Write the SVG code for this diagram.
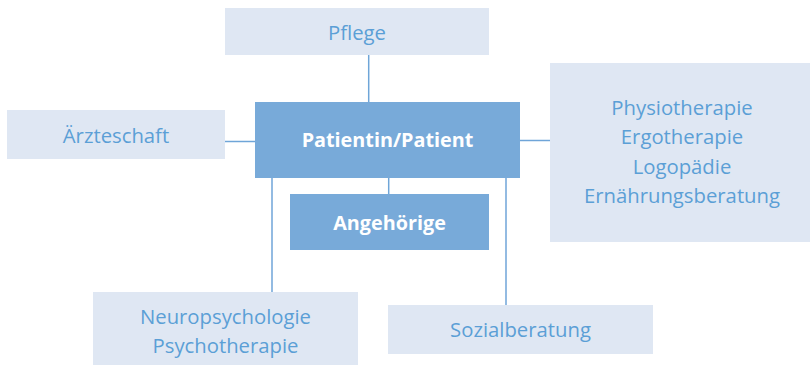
<svg xmlns="http://www.w3.org/2000/svg" width="810" height="365" viewBox="0 0 810 365">
<style>
.lt{fill:#dfe7f3}
.dk{fill:#78aad9}
.t{font-family:"Open Sans","Liberation Sans",sans-serif;font-size:20.3px;fill:#5b9fd6;text-anchor:middle}
.tb{font-family:"Open Sans","Liberation Sans",sans-serif;font-size:19.8px;font-weight:bold;fill:#ffffff;text-anchor:middle}
.c{stroke:#6fa5d8;stroke-width:1.5;fill:none}
</style>
<rect width="810" height="365" fill="#ffffff"/>
<g id="connectors">
<line class="c" x1="368.7" y1="55" x2="368.7" y2="102"/>
<line class="c" x1="225" y1="141.5" x2="255" y2="141.5"/>
<line class="c" x1="520" y1="140.5" x2="550" y2="140.5"/>
<line class="c" x1="388.7" y1="178" x2="388.7" y2="194"/>
<line class="c" x1="272" y1="178" x2="272" y2="292"/>
<line class="c" x1="506" y1="178" x2="506" y2="305"/>
</g>
<g id="pflege">
<rect class="lt" x="225" y="8" width="264" height="47"/>
<text class="t" x="357" y="39.5">Pflege</text>
</g>
<g id="aerzteschaft">
<rect class="lt" x="7" y="110" width="218" height="49"/>
<text class="t" x="116" y="143">Ärzteschaft</text>
</g>
<g id="patient">
<rect class="dk" x="255" y="102" width="265" height="76"/>
<text class="tb" x="387.5" y="147">Patientin/Patient</text>
</g>
<g id="angehoerige">
<rect class="dk" x="290" y="194" width="199" height="56"/>
<text class="tb" x="389.5" y="230">Angehörige</text>
</g>
<g id="therapie">
<rect class="lt" x="550" y="63" width="260" height="179"/>
<text class="t" x="682" y="115">Physiotherapie</text>
<text class="t" x="682" y="144">Ergotherapie</text>
<text class="t" x="682" y="173.5">Logopädie</text>
<text class="t" x="682" y="203">Ernährungsberatung</text>
</g>
<g id="neuro">
<rect class="lt" x="93" y="292" width="265" height="73"/>
<text class="t" x="225.5" y="323.5">Neuropsychologie</text>
<text class="t" x="225.5" y="353">Psychotherapie</text>
</g>
<g id="sozial">
<rect class="lt" x="388" y="305" width="265" height="49"/>
<text class="t" x="520.5" y="337">Sozialberatung</text>
</g>
</svg>
